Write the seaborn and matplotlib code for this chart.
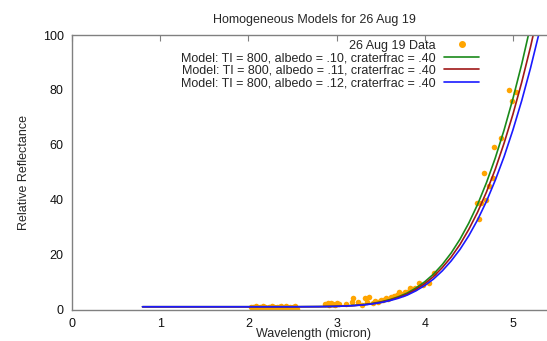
import matplotlib
matplotlib.use("Agg")
import matplotlib.pyplot as plt
import seaborn as sns
import pandas as pd
from matplotlib.lines import Line2D

# ---- data ----
obs_x = [2.03, 2.05, 2.07, 2.09, 2.11, 2.13, 2.15, 2.17, 2.19, 2.21, 2.23, 2.25,
         2.27, 2.29, 2.31, 2.33, 2.35, 2.37, 2.39, 2.41, 2.43, 2.45, 2.47, 2.49,
         2.51, 2.53, 2.55,
         2.87, 2.90, 2.92, 2.94, 2.96, 2.98, 3.00, 3.03,
         3.11, 3.17, 3.19, 3.24, 3.29, 3.32, 3.34, 3.37, 3.41, 3.44, 3.47, 3.50,
         3.53, 3.56, 3.58, 3.62, 3.65, 3.68, 3.71, 3.75, 3.78, 3.80, 3.83, 3.86,
         3.89, 3.94, 3.98, 4.05, 4.11,
         4.59, 4.61, 4.64, 4.67, 4.70, 4.73, 4.77, 4.79, 4.87, 4.96, 4.99, 5.04]
obs_y = [0.8, 1.0, 0.6, 1.2, 0.7, 0.9, 0.5, 1.1, 0.8, 0.6, 1.0, 0.7,
         1.2, 0.9, 0.6, 1.0, 0.8, 1.1, 0.5, 0.9, 1.2, 0.7, 1.0, 0.6,
         0.9, 1.1, 0.2,
         2.0, 2.3, 1.8, 2.4, 2.0, 1.6, 2.2, 1.9,
         1.9, 2.9, 4.1, 2.6, 1.6, 4.1, 2.9, 4.7, 2.3, 3.0, 2.8, 3.5,
         3.5, 4.1, 3.7, 4.6, 4.9, 5.2, 6.5, 5.8, 6.2, 6.5, 7.8, 7.4,
         7.8, 9.5, 8.8, 9.5, 13.2,
         38.7, 32.9, 38.9, 49.6, 39.9, 45.0, 48.0, 59.1, 62.4, 80.0, 75.9, 79.1]

model_x = [0.8, 1.5, 2.0, 2.5, 2.8, 2.9, 3.0, 3.1, 3.2, 3.3, 3.4, 3.5, 3.6, 3.7,
           3.8, 3.9, 4.0, 4.1, 4.2, 4.3, 4.4, 4.5, 4.6, 4.7, 4.8, 4.9, 5.0,
           5.1, 5.2, 5.3, 5.4]
model_10 = [1.0, 1.0, 1.0, 1.0, 1.05, 1.10, 1.17, 1.30, 1.49, 1.77, 2.18, 2.76,
            3.56, 4.62, 5.96, 7.82, 10.1, 12.9, 16.4, 20.6, 25.6, 31.5, 38.3,
            46.2, 55.2, 65.4, 76.8, 89.4, 103.4, 118.8, 135.4]
model_11 = [1.0, 1.0, 1.0, 1.0, 1.05, 1.09, 1.16, 1.28, 1.45, 1.71, 2.09, 2.63,
            3.37, 4.35, 5.59, 7.31, 9.42, 12.0, 15.3, 19.1, 23.7, 29.2, 35.5,
            42.8, 51.1, 60.6, 71.1, 82.8, 95.7, 110.0, 125.3]
model_12 = [1.0, 1.0, 1.0, 1.0, 1.04, 1.08, 1.14, 1.26, 1.42, 1.65, 2.00, 2.50,
            3.18, 4.08, 5.22, 6.80, 8.74, 11.1, 14.1, 17.7, 21.9, 26.9, 32.7,
            39.4, 47.1, 55.7, 65.4, 76.1, 88.0, 101.1, 115.2]

labels = ["26 Aug 19 Data",
          "Model: TI = 800, albedo = .10, craterfrac = .40",
          "Model: TI = 800, albedo = .11, craterfrac = .40",
          "Model: TI = 800, albedo = .12, craterfrac = .40"]
colors = ["#ffa500", "#1a8a1a", "#a01818", "#1a1aff"]
x_ticks = [0, 1, 2, 3, 4, 5]
y_ticks = [0, 20, 40, 60, 80, 100]

sns.set_theme(style="white")
plt.rcParams["font.family"] = ["Liberation Sans", "DejaVu Sans"]

fig = plt.figure(figsize=(5.47, 3.41), dpi=100)
W, H = 547, 341
ax = fig.add_axes([72 / W, (H - 309.5) / H, (557 - 72) / W, (309.5 - 35) / H])

obs = pd.DataFrame({"x": obs_x, "y": obs_y})
mods = pd.DataFrame({"x": model_x * 3,
                     "y": model_10 + model_11 + model_12,
                     "m": [labels[1]] * len(model_x) + [labels[2]] * len(model_x)
                          + [labels[3]] * len(model_x)})

sns.lineplot(data=mods, x="x", y="y", hue="m", palette=colors[1:], sort=False,
             estimator=None, linewidth=1.2, ax=ax, legend=False)
sns.scatterplot(data=obs, x="x", y="y", color=colors[0], s=16, linewidth=0,
                ax=ax, legend=False, zorder=1)

ax.set_xlim(0, 5.5)
ax.set_ylim(0, 100)
ax.set_xticks(x_ticks)
ax.set_yticks(y_ticks)
ax.tick_params(direction="in", length=4, width=0.8, color="#808080",
               top=True, right=True, labelsize=9, labelcolor="#111111", pad=6)
for s in ax.spines.values():
    s.set_color("#808080")
    s.set_linewidth(1.0)

ax.set_xlabel("Wavelength (micron)", fontsize=9, va="top")
ax.xaxis.set_label_coords((314 - 72) / 485, (309.5 - 328.5) / 274.5)
ax.set_ylabel("Relative Reflectance", fontsize=9, labelpad=9)
ax.set_title("Homogeneous Models for 26 Aug 19", fontsize=9, pad=9)

handles = [Line2D([], [], marker="o", ls="", color=colors[0], markersize=4)]
handles += [Line2D([], [], color=c, lw=1.2) for c in colors[1:]]
leg = ax.legend(handles, labels, loc="upper right", markerfirst=False,
                frameon=False, fontsize=9, handlelength=2.8, handletextpad=0.7,
                labelspacing=0.05, borderpad=0, borderaxespad=0,
                bbox_to_anchor=((479 - 72) / 485, (309.5 - 39.5) / 274.5))

fig.savefig("out.png", dpi=100)
